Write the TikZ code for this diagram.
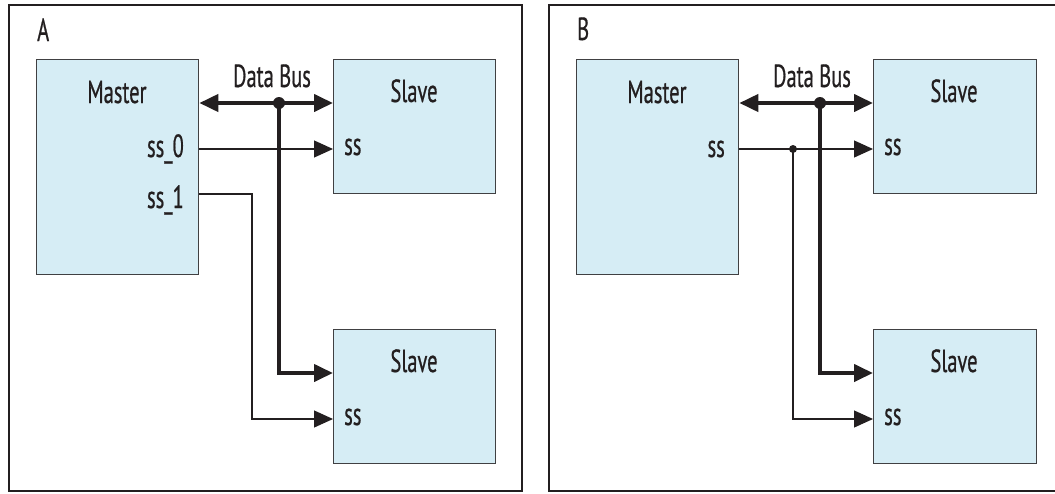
\documentclass[tikz,border=0pt]{standalone}
\usepackage{fontspec}
\setmainfont{PT Sans}[FakeStretch=0.64,FakeBold=0.6]
\usetikzlibrary{arrows.meta}
\definecolor{boxfill}{RGB}{214,237,245}
\definecolor{boxline}{RGB}{64,64,66}
\definecolor{ink}{RGB}{35,31,32}
\tikzset{
  panel/.style={draw=ink, line width=1.6pt},
  box/.style={draw=boxline, fill=boxfill, line width=1.3pt, inner sep=0pt, anchor=north west},
  lbl/.style={inner sep=0pt, font=\fontsize{32}{36}\selectfont, text=ink},
  sig/.style={draw=ink, line width=1.2pt},
  bus/.style={draw=ink, line width=4pt},
  tip/.tip={Triangle[length=19pt,width=17pt]},
  dotbig/.style={circle, fill=ink, inner sep=0pt, minimum size=12pt},
  dotsmall/.style={circle, fill=ink, inner sep=0pt, minimum size=8pt},
}
\begin{document}
\begin{tikzpicture}[x=1pt,y=-1pt]
\useasboundingbox (0,0) rectangle (1055,493);
% panels
\draw[panel] (9,5) rectangle (522,491);
\draw[panel] (549,5) rectangle (1062,491);
\node[lbl, anchor=base west] (tA) at (37,41) {A};
\node[lbl, anchor=base west] (tB) at (577,40) {B};

% ---------- Panel A ----------
\node[box, minimum width=162pt, minimum height=215pt] (mA) at (36,59) {};
\node[box, minimum width=162pt, minimum height=134pt] (sA1) at (333,59) {};
\node[box, minimum width=162pt, minimum height=134pt] (sA2) at (333,329) {};
\node[lbl, anchor=base] (mAt) at (117,103) {Master};
\node[lbl, anchor=base east] (ss0) at (184,157) {ss\_0};
\node[lbl, anchor=base east] (ss1) at (184,208) {ss\_1};
\node[lbl, anchor=base] (sA1t) at (414,102) {Slave};
\node[lbl, anchor=base] (sA2t) at (414,372) {Slave};
\node[lbl, anchor=base west] (sA1ss) at (344,155) {ss};
\node[lbl, anchor=base west] (sA2ss) at (344,425) {ss};
\node[lbl, anchor=base] (dbA) at (272,87) {Data Bus};

\coordinate (busA) at (279,103);
\coordinate (busAlow) at (279,373);
\coordinate (ss0y) at (0,149);
\coordinate (ss1y) at (0,194);
\coordinate (ss1turn) at (252,419);

\draw[bus, {tip}-{tip}] (mA.east |- busA) -- (sA1.west |- busA);
\draw[bus, -{tip}] (busA) -- (busAlow) -- (sA2.west |- busAlow);
\node[dotbig] (dA) at (busA) {};
\draw[sig, -{tip}] (mA.east |- ss0y) -- (sA1.west |- ss0y);
\draw[sig, -{tip}] (mA.east |- ss1y) -| (ss1turn) -- (sA2.west |- ss1turn);

% ---------- Panel B ----------
\node[box, minimum width=162pt, minimum height=215pt] (mB) at (576,59) {};
\node[box, minimum width=163pt, minimum height=134pt] (sB1) at (873,59) {};
\node[box, minimum width=163pt, minimum height=134pt] (sB2) at (873,329) {};
\node[lbl, anchor=base] (mBt) at (657,103) {Master};
\node[lbl, anchor=base east] (mBss) at (725,157) {ss};
\node[lbl, anchor=base] (sB1t) at (954,102) {Slave};
\node[lbl, anchor=base] (sB2t) at (954,372) {Slave};
\node[lbl, anchor=base west] (sB1ss) at (884,155) {ss};
\node[lbl, anchor=base west] (sB2ss) at (884,425) {ss};
\node[lbl, anchor=base] (dbB) at (812,87) {Data Bus};

\coordinate (busB) at (820,103);
\coordinate (busBlow) at (820,373);
\coordinate (ssB) at (793,149);
\coordinate (ssBlow) at (793,419);

\draw[sig, -{tip}] (mB.east |- ssB) -- (sB1.west |- ssB);
\draw[sig, -{tip}] (ssB) -- (ssBlow) -- (sB2.west |- ssBlow);
\node[dotsmall] (dB2) at (ssB) {};
\draw[bus, {tip}-{tip}] (mB.east |- busB) -- (sB1.west |- busB);
\draw[bus, -{tip}] (busB) -- (busBlow) -- (sB2.west |- busBlow);
\node[dotbig] (dB) at (busB) {};
\end{tikzpicture}
\end{document}
